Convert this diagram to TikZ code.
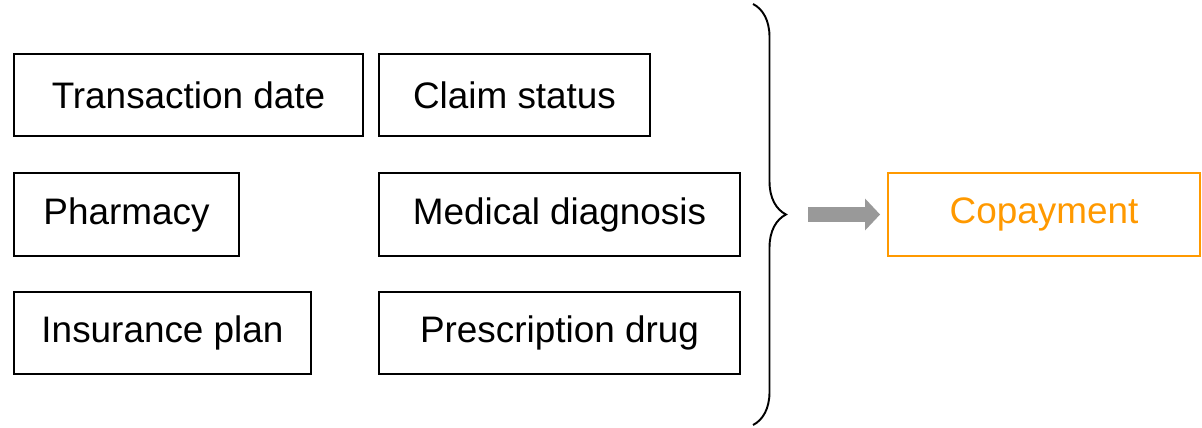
\documentclass[tikz,border=0pt]{standalone}
\usepackage{fontspec}
\setmainfont{Liberation Sans}
\usepackage{tikz}
\usetikzlibrary{arrows.meta, positioning, decorations.pathreplacing}
\definecolor{copayorange}{HTML}{FF9900}
\definecolor{arrowgray}{HTML}{999999}
\tikzset{
  field/.style = {draw=black, line width=1.1pt, inner sep=0pt,
    text centered, font=\fontsize{21pt}{25pt}\selectfont,
    minimum height=1.65cm},
  target/.style = {field, draw=copayorange, text=copayorange}
}

\begin{document}
\begin{tikzpicture}[x=0.02cm, y=-0.02cm]
\useasboundingbox (0,0) rectangle (1202,428);
% input fields
\node [field, minimum width=6.98cm] (tdate) at (188.5,95) {Transaction date};
\node [field, minimum width=5.42cm] (claim) at (514.5,95) {Claim status};
\node [field, minimum width=4.50cm] (pharm) at (126.5,214.5) {Pharmacy};
\node [field, minimum width=7.22cm] (diag) at (559.5,214.5) {Medical diagnosis};
\node [field, minimum width=5.94cm] (plan) at (162.5,333) {Insurance plan};
\node [field, minimum width=7.22cm] (drug) at (559.5,333) {Prescription drug};
% output
\node [target, minimum width=6.24cm] (copay) at (1044,214.5) {Copayment};
% brace and arrow
\coordinate (btop) at (753,4);
\coordinate (bbot) at (753,425);
\coordinate (tip) at (786,214.5);
\draw [line width=1.1pt, decorate, decoration={brace, amplitude=0.66cm}]
  (btop) -- (bbot);
\draw [arrowgray, line width=0.3cm,
  -{Triangle[length=0.3cm, width=0.62cm]}]
  ([xshift=0.44cm]tip) -- ([xshift=-0.14cm]copay.west);
\end{tikzpicture}
\end{document}
